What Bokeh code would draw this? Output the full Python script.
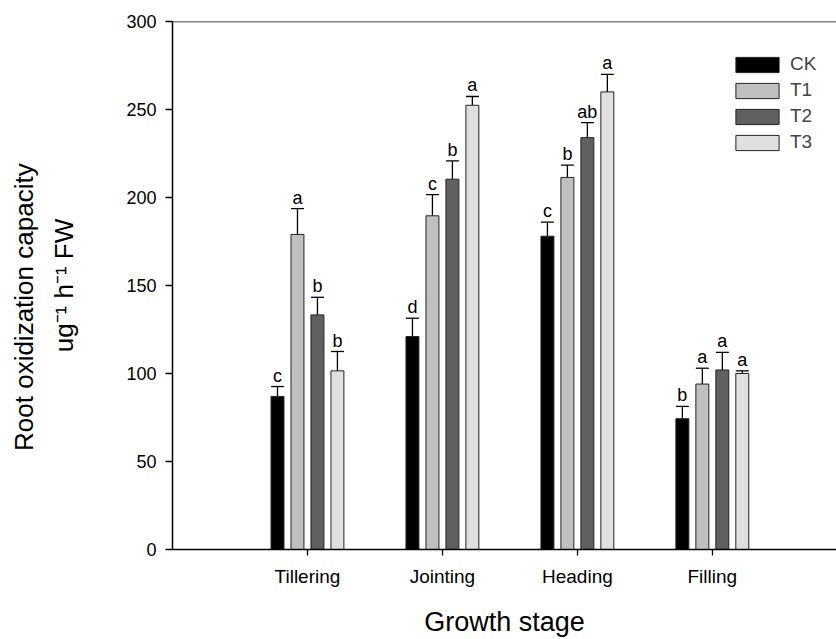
import math
from bokeh.plotting import figure
from bokeh.models import Range1d, FixedTicker, ColumnDataSource, Legend, LegendItem, Span
from bokeh.embed import file_html
from bokeh.resources import INLINE
from bokeh.core.properties import value

# ---- data ----
stages = ["Tillering", "Jointing", "Heading", "Filling"]
series = ["CK", "T1", "T2", "T3"]
ck_vals = [87.0, 121.0, 178.0, 74.3]
t1_vals = [179.0, 189.6, 211.4, 94.0]
t2_vals = [133.3, 210.4, 234.0, 102.0]
t3_vals = [101.5, 252.4, 260.0, 100.0]
ck_err = [5.6, 10.4, 8.0, 7.0]
t1_err = [14.7, 12.0, 7.0, 9.0]
t2_err = [10.0, 10.4, 8.5, 10.0]
t3_err = [11.0, 5.0, 10.0, 1.5]
ck_sig = ["c", "d", "c", "b"]
t1_sig = ["a", "c", "b", "a"]
t2_sig = ["b", "b", "ab", "a"]
t3_sig = ["b", "a", "a", "a"]
y_ticks = [0, 50, 100, 150, 200, 250, 300]
y_title_1 = "Root oxidization capacity"
y_title_2 = "ug\u207b\u00b9 h\u207b\u00b9 FW"
x_title = "Growth stage"

# ---- styling ----
FONT = "Liberation Sans"
colors = ["#000000", "#c0c0c0", "#606060", "#e0e0e0"]
offsets = [-0.222, -0.074, 0.074, 0.222]
bar_w = 0.096
cap_half = 0.048
PAD = "\u00a0" * 6   # shifts the first title line down to where the reference has it

p = figure(width=836, height=639, output_backend="svg", toolbar_location=None,
           x_range=Range1d(0, 4.92), y_range=Range1d(0, 300),
           min_border_left=172, min_border_right=0, min_border_top=21, min_border_bottom=89)
p.grid.visible = False
p.outline_line_color = None
p.background_fill_color = "white"
p.border_fill_color = "white"

pos = [i + 1 for i in range(len(stages))]

all_vals = [ck_vals, t1_vals, t2_vals, t3_vals]
all_err = [ck_err, t1_err, t2_err, t3_err]
all_sig = [ck_sig, t1_sig, t2_sig, t3_sig]

items = []
for k, name in enumerate(series):
    xs = [x + offsets[k] for x in pos]
    vals = all_vals[k]
    errs = all_err[k]
    tops = [v + e for v, e in zip(vals, errs)]
    src = ColumnDataSource(dict(x=xs, top=vals, up=tops, sig=all_sig[k],
                                xl=[x - cap_half for x in xs], xr=[x + cap_half for x in xs]))
    p.segment(x0="x", y0="top", x1="x", y1="up", source=src, line_color="black", line_width=1.3)
    p.segment(x0="xl", y0="up", x1="xr", y1="up", source=src, line_color="black", line_width=1.3)
    r = p.vbar(x="x", top="top", bottom=0, width=bar_w, source=src,
               fill_color=colors[k], line_color="#222222", line_width=1)
    p.text(x="x", y="up", text="sig", source=src, text_align="center",
           text_baseline="bottom", y_offset=-1, text_font=value(FONT),
           text_font_size="18px", text_color="black")
    items.append(LegendItem(label=name, renderers=[r]))

legend = Legend(items=items, location=(558, 396), orientation="vertical",
                glyph_width=54, glyph_height=19, label_standoff=6, spacing=4,
                padding=0, margin=0, border_line_color=None, background_fill_alpha=0,
                label_text_font_size="19px", label_text_font=FONT, label_height=15)
p.add_layout(legend)

# axes
p.xaxis.ticker = FixedTicker(ticks=pos)
p.xaxis.major_label_overrides = {x: s for x, s in zip(pos, stages)}
p.yaxis.ticker = FixedTicker(ticks=y_ticks)
for ax in (p.xaxis[0], p.yaxis[0]):
    ax.axis_line_width = 1.5
    ax.axis_line_color = "black"
    ax.major_tick_line_color = "black"
    ax.major_tick_line_width = 1.3
    ax.minor_tick_line_color = None
    ax.major_tick_in = 0
    ax.major_label_text_font = FONT
    ax.major_label_text_color = "black"
    ax.axis_label_text_font = FONT
    ax.axis_label_text_font_style = "normal"
    ax.axis_label_text_color = "black"
p.xaxis.major_tick_out = 6
p.yaxis.major_tick_out = 7
p.xaxis.major_label_text_font_size = "19px"
p.yaxis.major_label_text_font_size = "18px"
p.xaxis.major_label_standoff = 10
p.yaxis.major_label_standoff = 9
p.xaxis.axis_label = x_title
p.xaxis.axis_label_text_font_size = "27px"
p.xaxis.axis_label_standoff = 17
p.yaxis.axis_label = y_title_1 + PAD + "\n" + y_title_2
p.yaxis.axis_label_text_font_size = "26px"
p.yaxis.axis_label_text_line_height = 1.35
p.yaxis.axis_label_standoff = 44

# top frame line
p.add_layout(Span(location=300, dimension="width", line_color="black", line_width=1.5))

open("out.html", "w").write(file_html(p, INLINE))
